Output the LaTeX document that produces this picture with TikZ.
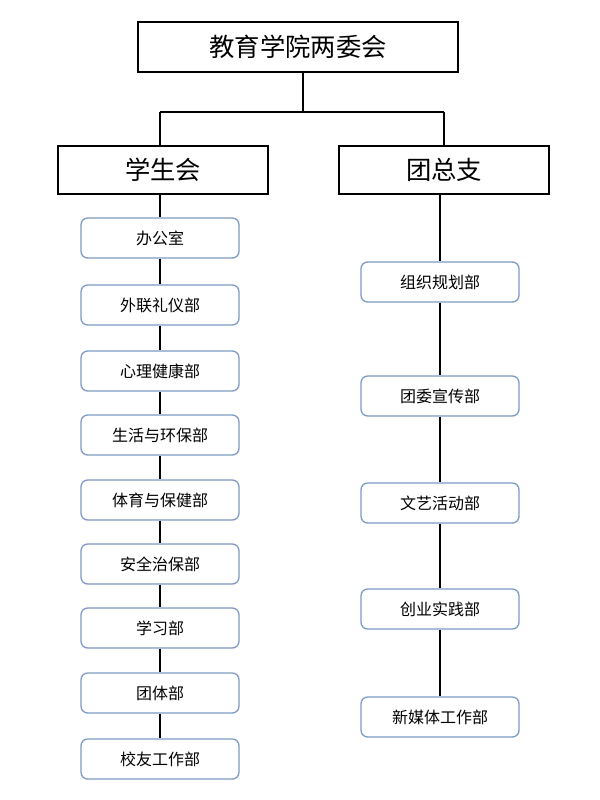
\documentclass[tikz,border=0pt]{standalone}
\usepackage{fontspec}
\newfontfamily\cjk{Noto Sans CJK SC}
\definecolor{deptline}{RGB}{125,155,195}
\tikzset{
  bigbox/.style={draw, line width=1pt, minimum width=210*0.75pt, minimum height=48*0.75pt, font=\cjk\fontsize{19}{21}\selectfont},
  dept/.style={draw=deptline, line width=1pt, rounded corners=5pt, fill=white, minimum width=158*0.75pt, minimum height=40*0.75pt, font=\cjk\fontsize{12}{14}\selectfont},
  link/.style={line width=0.8pt}
}
\begin{document}
\begin{tikzpicture}[x=0.75pt, y=-0.75pt]
\useasboundingbox (0,0) rectangle (600,800);

\node[bigbox, minimum width=320*0.75pt, minimum height=50*0.75pt] (top) at (298,47) {教育学院两委会};
\node[bigbox] (xsh) at (163,170) {学生会};
\node[bigbox] (tzz) at (444,170) {团总支};
\coordinate (mid) at (303,112);

\draw[link] (303,72) -- (mid);
\draw[link] (160,112) -- (444,112);
\draw[link] (160,112) -- (160,146);
\draw[link] (444,112) -- (444,146);

% left column
\foreach \name/\y [count=\i] in {办公室/238, 外联礼仪部/305, 心理健康部/371, 生活与环保部/435, 体育与保健部/500, 安全治保部/564, 学习部/628, 团体部/693, 校友工作部/759}
  \node[dept] (l\i) at (160,\y) {\name};
\draw[link] (l1.north |- xsh.south) -- (l1);
\foreach \i [evaluate=\i as \j using int(\i+1)] in {1,...,8}
  \draw[link] (l\i) -- (l\j);

% right column
\foreach \name/\y [count=\i] in {组织规划部/282, 团委宣传部/396, 文艺活动部/503, 创业实践部/609, 新媒体工作部/717}
  \node[dept] (r\i) at (440,\y) {\name};
\draw[link] (r1.north |- tzz.south) -- (r1);
\foreach \i [evaluate=\i as \j using int(\i+1)] in {1,...,4}
  \draw[link] (r\i) -- (r\j);
\end{tikzpicture}
\end{document}
